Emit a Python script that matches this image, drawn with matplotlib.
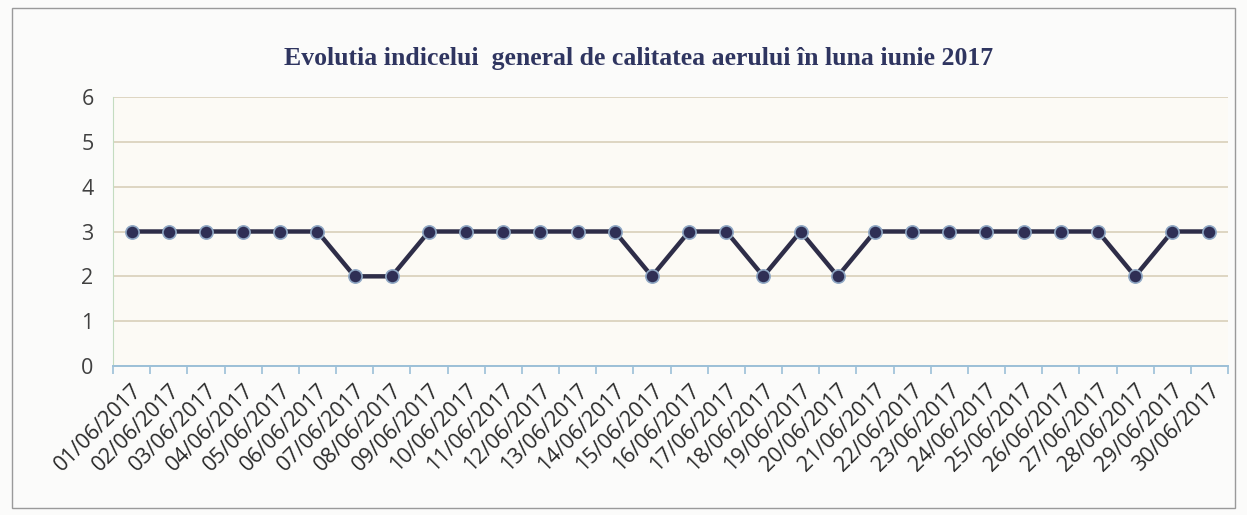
import matplotlib
matplotlib.use("Agg")
import matplotlib.pyplot as plt
from matplotlib.patches import Rectangle
import numpy as np

days = [f"{d:02d}/06/2017" for d in range(1, 31)]
values = [3, 3, 3, 3, 3, 3, 2, 2, 3, 3, 3, 3, 3, 3, 2, 3, 3, 2, 3, 2,
          3, 3, 3, 3, 3, 3, 3, 2, 3, 3]
yticks = [0, 1, 2, 3, 4, 5, 6]
title = "Evolutia indicelui  general de calitatea aerului în luna iunie 2017"

fig = plt.figure(figsize=(12.47, 5.15), dpi=100, facecolor="#fbfbfa")
fig.patches.append(Rectangle((12 / 1247, 1 - 508 / 515), (1235 - 12) / 1247, (508 - 8) / 515,
                             transform=fig.transFigure, fill=False, edgecolor="#9a9a9a",
                             linewidth=1.0))
ax = fig.add_axes([113 / 1247, 1 - 366 / 515, (1228 - 113) / 1247, (366 - 97) / 515])
ax.set_facecolor("#fcfaf5")

x = np.arange(len(days))
ax.plot(x, values, color="#2e2d48", linewidth=3.2, marker="o", markersize=9.5,
        markerfacecolor="#2f2f55", markeredgecolor="#8fa7c4", markeredgewidth=1.2, zorder=3)

ax.set_xlim(-0.5, len(days) - 0.5)
ax.set_ylim(0, 6)
ax.set_yticks(yticks)
ax.set_yticklabels([str(v) for v in yticks], fontsize=15.5, color="#404040",
                   family="Open Sans")
ax.tick_params(axis="y", length=0, pad=14)
ax.yaxis.grid(True, color="#d6ccb4", linewidth=1.1)
ax.set_axisbelow(True)

ax.set_xticks(x)
ax.set_xticklabels(days, rotation=45, ha="right", rotation_mode="anchor",
                   fontsize=15.5, color="#2a2a2a", family="Open Sans")
ax.set_xticks(np.arange(-0.5, len(days)), minor=True)
ax.tick_params(axis="x", which="major", length=0, pad=10)
ax.tick_params(axis="x", which="minor", length=6, color="#9cc0d8", width=1.2)

for s in ["top", "right"]:
    ax.spines[s].set_visible(False)
ax.spines["left"].set_color("#c4dcc0")
ax.spines["left"].set_linewidth(0.8)
ax.spines["bottom"].set_color("#9cc0d8")
ax.spines["bottom"].set_linewidth(1.4)

fig.text(0.512, 1 - 58 / 515, title, ha="center", va="center", fontsize=18.5,
         fontweight="bold", family="Liberation Serif", color="#2f3560")

fig.savefig("out.png", dpi=100, facecolor=fig.get_facecolor())
